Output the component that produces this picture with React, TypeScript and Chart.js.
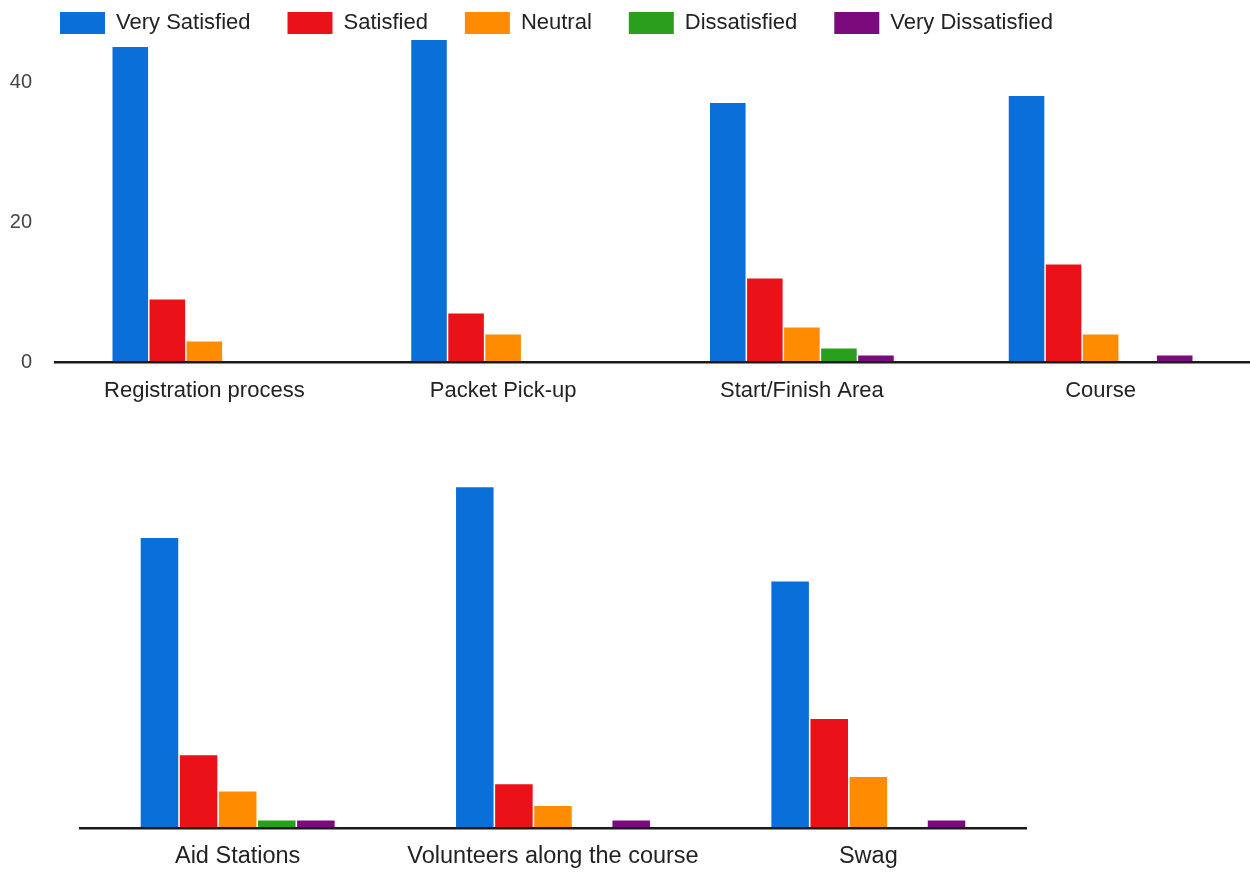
import React, { useEffect, useRef } from "react";
import { Chart, registerables } from "chart.js";

Chart.register(...registerables);

const FONT = "'Liberation Sans', Arial, sans-serif";

const seriesNames = ["Very Satisfied", "Satisfied", "Neutral", "Dissatisfied", "Very Dissatisfied"];
const seriesColors = ["#0a6fd9", "#ea1118", "#ff8c00", "#2a9f1e", "#7b0a7d"];

const topCategories = ["Registration process", "Packet Pick-up", "Start/Finish Area", "Course"];
const topVerySatisfied = [45, 46, 37, 38];
const topSatisfied = [9, 7, 12, 14];
const topNeutral = [3, 4, 5, 4];
const topDissatisfied = [0, 0, 2, 0];
const topVeryDissatisfied = [0, 0, 1, 1];
const topTicks = [0, 20, 40];

const bottomCategories = ["Aid Stations", "Volunteers along the course", "Swag"];
const bottomVerySatisfied = [40, 47, 34];
const bottomSatisfied = [10, 6, 15];
const bottomNeutral = [5, 3, 7];
const bottomDissatisfied = [1, 0, 0];
const bottomVeryDissatisfied = [1, 1, 1];

function makeDatasets(series: number[][]) {
  return series.map((data, i) => ({
    label: seriesNames[i],
    data,
    backgroundColor: seriesColors[i],
    borderWidth: 0,
    categoryPercentage: 0.62,
    barPercentage: 0.96,
  }));
}

const legendPlacement = {
  id: "legendPlacement",
  beforeInit(chart: any) {
    const lg = chart.legend;
    if (!lg) return;
    const origFit = lg.fit;
    lg.fit = function () {
      origFit.call(this);
      this.height = 40;
    };
  },
  beforeDraw(chart: any) {
    const lg = chart.legend;
    if (!lg) return;
    lg.left = 23;
    lg.right = 1250;
    lg.top = -25;
  },
};

function TopChart() {
  const ref = useRef<HTMLCanvasElement | null>(null);
  useEffect(() => {
    if (!ref.current) return;
    const chart = new Chart(ref.current, {
      type: "bar",
      data: {
        labels: topCategories,
        datasets: makeDatasets([
          topVerySatisfied,
          topSatisfied,
          topNeutral,
          topDissatisfied,
          topVeryDissatisfied,
        ]) as any,
      },
      plugins: [legendPlacement as any],
      options: {
        responsive: false,
        animation: false,
        layout: { padding: { left: 8, right: 0, top: 0, bottom: 0 } },
        plugins: {
          legend: {
            display: true,
            position: "top",
            align: "start",
            labels: {
              boxWidth: 45,
              boxHeight: 22,
              padding: 37,
              color: "#222",
              font: { family: FONT, size: 22 },
            },
          },
          tooltip: { enabled: false },
        },
        scales: {
          x: {
            grid: { display: false, drawTicks: false },
            border: { display: true, color: "#1a1a1a", width: 2.5, z: 1 } as any,
            ticks: {
              color: "#222",
              font: { family: FONT, size: 22 },
              padding: 15,
              maxRotation: 0,
              autoSkip: false,
            },
          },
          y: {
            min: 0,
            max: 46,
            grid: { display: false, drawTicks: false },
            border: { display: false },
            ticks: {
              color: "#444",
              font: { family: FONT, size: 20 },
              padding: 23,
            },
            afterBuildTicks: (s: any) => {
              s.ticks = topTicks.map((v) => ({ value: v }));
            },
            afterFit: (s: any) => {
              s.width = 47;
            },
          },
        },
      },
    });
    return () => chart.destroy();
  }, []);
  return (
    <canvas
      ref={ref}
      width={1250}
      height={419}
      style={{ position: "absolute", left: 0, top: 0, width: 1250, height: 419 }}
    />
  );
}

function BottomChart() {
  const ref = useRef<HTMLCanvasElement | null>(null);
  useEffect(() => {
    if (!ref.current) return;
    const chart = new Chart(ref.current, {
      type: "bar",
      data: {
        labels: bottomCategories,
        datasets: makeDatasets([
          bottomVerySatisfied,
          bottomSatisfied,
          bottomNeutral,
          bottomDissatisfied,
          bottomVeryDissatisfied,
        ]) as any,
      },
      options: {
        responsive: false,
        animation: false,
        layout: { padding: { left: 80, right: 224, top: 11.5, bottom: 0 } },
        plugins: {
          legend: { display: false },
          tooltip: { enabled: false },
        },
        scales: {
          x: {
            grid: { display: false, drawTicks: false },
            border: { display: true, color: "#1a1a1a", width: 2.5, z: 1 } as any,
            ticks: {
              color: "#222",
              font: { family: FONT, size: 23.5 },
              padding: 15,
              maxRotation: 0,
              autoSkip: false,
            },
          },
          y: {
            display: false,
            min: 0,
            max: 50,
          },
        },
      },
    });
    return () => chart.destroy();
  }, []);
  return (
    <canvas
      ref={ref}
      width={1250}
      height={432}
      style={{ position: "absolute", left: 0, top: 454, width: 1250, height: 432 }}
    />
  );
}

export default function App() {
  return (
    <div
      style={{
        position: "absolute",
        left: 0,
        top: 0,
        width: 1250,
        height: 874,
        background: "#fff",
        overflow: "hidden",
      }}
    >
      <TopChart />
      <BottomChart />
    </div>
  );
}
